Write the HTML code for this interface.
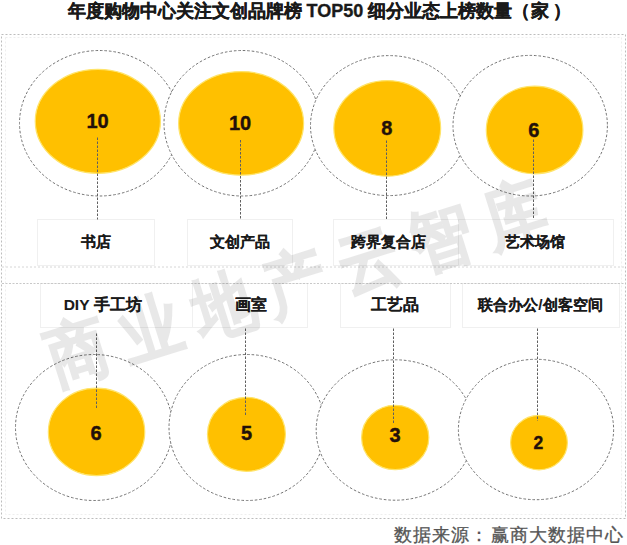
<!DOCTYPE html>
<html><head><meta charset="utf-8">
<style>
html,body{margin:0;padding:0;background:#fff;}
body{width:627px;height:545px;position:relative;overflow:hidden;font-family:"Liberation Sans",sans-serif;}
#title{position:absolute;left:67.5px;top:1px;white-space:nowrap;font-size:18px;font-weight:bold;color:#1a1a1a;line-height:20px;-webkit-text-stroke:0.35px #1a1a1a;}
.lbl{position:absolute;white-space:nowrap;font-size:15px;font-weight:bold;color:#1a1a1a;transform:translate(-50%,-50%);line-height:18px;-webkit-text-stroke:0.1px #1a1a1a;}
.num{position:absolute;white-space:nowrap;font-size:20px;font-weight:bold;color:#22100a;transform:translate(-50%,-50%);line-height:20px;-webkit-text-stroke:0.4px #22100a;}
#wm{position:absolute;left:296px;top:283px;font-size:66px;line-height:66px;font-weight:bold;color:#000;opacity:0.085;-webkit-text-stroke:1.5px #000;transform:translate(-50%,-50%) rotate(-17.5deg) scale(0.92,1.06);letter-spacing:16.9px;text-indent:16.9px;white-space:nowrap;}
#foot{position:absolute;left:394px;top:523.5px;font-size:18px;letter-spacing:1.1px;color:#555;-webkit-text-stroke:0.3px #555;font-family:"Liberation Serif",serif;line-height:22px;white-space:nowrap;}
svg{position:absolute;left:0;top:0;}
</style></head><body>
<div id="title">年度购物中心关注文创品牌榜 TOP50 细分业态上榜数量（<span style="margin-left:1px;margin-right:3.5px">家</span>）</div>

<svg width="627" height="545" viewBox="0 0 627 545">
  <rect x="1.5" y="34.5" width="624" height="484" fill="none" stroke="#bdbdbd" stroke-width="1" stroke-dasharray="2 2"/>
  <rect x="5.5" y="37.5" width="616" height="477" fill="none" stroke="#eeeeee" stroke-width="1" stroke-dasharray="2 2"/>
  <g fill="none" stroke="#f0f0f0" stroke-width="1">
    <rect x="37.5" y="219.5" width="117" height="46"/>
    <rect x="187.5" y="219.5" width="105" height="46"/>
    <rect x="333.5" y="219.5" width="125" height="46"/>
    <rect x="458.5" y="219.5" width="155" height="46"/>
    <rect x="40.5" y="283.5" width="152" height="44"/>
    <rect x="192.5" y="283.5" width="115" height="44"/>
    <rect x="340.5" y="283.5" width="110" height="44"/>
    <rect x="462.5" y="283.5" width="157" height="44"/>
  </g>
  <line x1="2" y1="267" x2="625" y2="267" stroke="#d6d6d6" stroke-width="1" stroke-dasharray="2 2"/>
  <line x1="2" y1="283.5" x2="625" y2="283.5" stroke="#c8c8c8" stroke-width="1" stroke-dasharray="2 1.5"/>
  <g stroke="#747474" stroke-width="1" stroke-dasharray="2.6 1.9" fill="#fff">
    <ellipse cx="99.5" cy="123.25" rx="80" ry="72.75"/>
    <ellipse cx="242" cy="123.25" rx="78" ry="72.75"/>
    <ellipse cx="389" cy="125.6" rx="78.5" ry="70"/>
    <ellipse cx="530.2" cy="125.7" rx="77.2" ry="70.3"/>
    <ellipse cx="94" cy="427.5" rx="78.5" ry="73"/>
    <ellipse cx="247" cy="427.5" rx="78" ry="73"/>
    <ellipse cx="395.2" cy="430" rx="79" ry="70.2"/>
    <ellipse cx="536" cy="429.5" rx="77.6" ry="70.2"/>
  </g>
  <g fill="#FFC000" stroke="#FFE46A" stroke-width="1.2">
    <ellipse cx="97.85" cy="121.3" rx="62.6" ry="52"/>
    <ellipse cx="241.1" cy="123.35" rx="62.5" ry="51.8"/>
    <ellipse cx="387.25" cy="128.35" rx="53.4" ry="47.8"/>
    <ellipse cx="534.6" cy="130" rx="48.3" ry="43.8"/>
    <ellipse cx="96.55" cy="431.9" rx="48.2" ry="43.8"/>
    <ellipse cx="246.45" cy="434.35" rx="39" ry="37"/>
    <ellipse cx="395.2" cy="437.5" rx="33.6" ry="32.2"/>
    <ellipse cx="539" cy="442.6" rx="28.4" ry="27.2"/>
  </g>
  <g stroke="#606060" stroke-width="1" stroke-dasharray="2.5 1.5">
    <line x1="97.5" y1="137.5" x2="97.5" y2="219.5"/>
    <line x1="240.5" y1="140" x2="240.5" y2="219.5"/>
    <line x1="386.5" y1="140.5" x2="386.5" y2="219.5"/>
    <line x1="533.5" y1="139.5" x2="533.5" y2="219.5"/>
    <line x1="96.5" y1="333.5" x2="96.5" y2="409"/>
    <line x1="245.5" y1="328.5" x2="245.5" y2="415.5"/>
    <line x1="393.5" y1="328.5" x2="393.5" y2="424"/>
    <line x1="537.5" y1="328.5" x2="537.5" y2="421"/>
  </g>
</svg>

<div class="num" style="left:97.5px;top:120.8px">10</div>
<div class="num" style="left:240.1px;top:122.7px">10</div>
<div class="num" style="left:386.7px;top:127.8px">8</div>
<div class="num" style="left:533.9px;top:129.9px">6</div>
<div class="num" style="left:96px;top:432.8px">6</div>
<div class="num" style="left:246.5px;top:432.8px">5</div>
<div class="num" style="left:395px;top:434.9px">3</div>
<div class="num" style="left:538.3px;top:443px;font-size:17.5px">2</div>

<div class="lbl" style="left:96.3px;top:241.5px">书店</div>
<div class="lbl" style="left:239.8px;top:241.5px">文创产品</div>
<div class="lbl" style="left:388.9px;top:241.5px">跨界复合店</div>
<div class="lbl" style="left:535.3px;top:241.5px">艺术场馆</div>
<div class="lbl" style="left:102.6px;top:305px;font-size:15.5px">DIY 手工坊</div>
<div class="lbl" style="left:250.9px;top:305px;font-size:15.5px">画室</div>
<div class="lbl" style="left:394.5px;top:305px;font-size:15.5px">工艺品</div>
<div class="lbl" style="left:540.4px;top:305px;font-size:15.3px">联合办公/创客空间</div>

<div id="wm">商业地产云智库</div>
<div id="foot">数据来源：<span style="margin-left:1px">赢商大数据中心</span></div>
</body></html>
